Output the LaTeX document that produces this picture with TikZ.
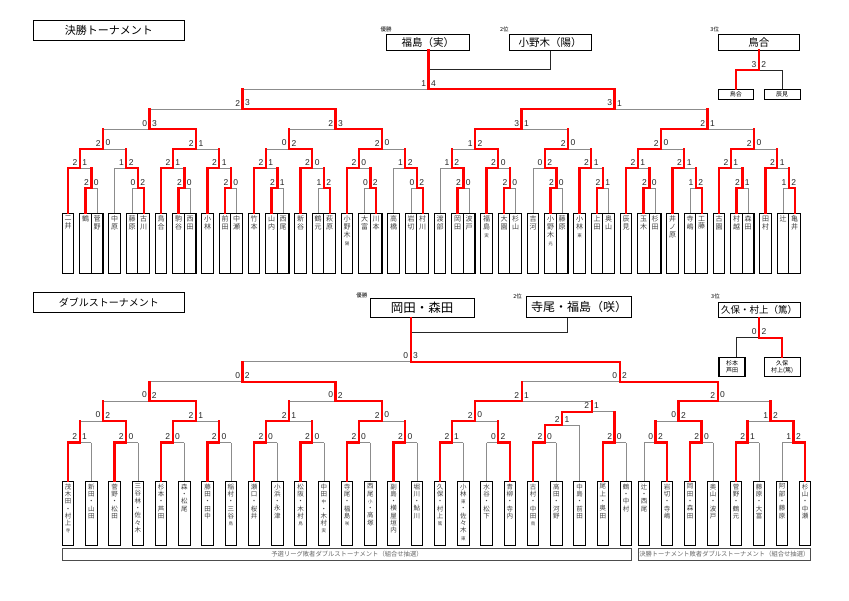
\documentclass[tikz,border=0pt]{standalone}
\usepackage{fontspec}
\setmainfont{Liberation Sans}
\newfontfamily\jp{Noto Sans CJK JP}
\usetikzlibrary{calc}
\pgfdeclarelayer{bg}
\pgfdeclarelayer{back}
\pgfsetlayers{bg,back,main}

% small suffix in a name column
\newcommand\sm[1]{{\fontsize{4.5}{5}\selectfont #1}}
% one match: [x], name, left, right, level, winner (l/r), left score, right score
\newcommand\bout[8][]{%
  \def\bx{#1}%
  \ifx\bx\empty
    \path let \p1=(#3), \p2=(#4), \p3=(0,#5) in ({(\x1+\x2)/2},\y3) coordinate (#2);
  \else
    \coordinate (#2) at (#1,#5);
  \fi
  \if l#6\def\wi{#3}\def\lo{#4}\else\def\wi{#4}\def\lo{#3}\fi
  \begin{pgfonlayer}{back}
    \draw[lose] (\lo |- #2) -- (#2);
    \ifcsname ism@\lo\endcsname\else\draw[lose] (\lo) -- (\lo |- #2);\fi
  \end{pgfonlayer}
  \ifcsname ism@\lo\endcsname\draw[win] (\lo) -- (\lo |- #2);\fi
  \draw[win] (\wi) |- (#2);
  \node[scL] at (#2) {#7};
  \node[scR] at (#2) {#8};
  \expandafter\gdef\csname ism@#2\endcsname{}%
}

\begin{document}
\begin{tikzpicture}[x=1pt,y=-1pt,
 win/.style={draw=red,line width=2.3pt,line cap=rect},
 lose/.style={draw=black!45,line width=0.6pt},
 rankline/.style={draw=black!85,line width=1pt},
 leaf/.style={draw,line width=1.1pt,anchor=north,minimum width=11.6pt,inner sep=0pt},
 nametop/.style={anchor=north,align=center,inner sep=0pt,yshift=-2.5pt,text=black!75,font=\jp\fontsize{7}{7.8}\selectfont},
 namebot/.style={nametop,font=\jp\fontsize{6.5}{7.3}\selectfont},
 scL/.style={anchor=south east,inner sep=0pt,xshift=-2.3pt,yshift=2.8pt,text=black!85,font=\fontsize{8.5}{8.5}\selectfont},
 scR/.style={anchor=south west,inner sep=0pt,xshift=2.3pt,yshift=2.8pt,text=black!85,font=\fontsize{8.5}{8.5}\selectfont},
 head/.style={draw,line width=1.1pt,inner sep=0pt},
 rank/.style={inner sep=0pt,font=\jp\fontsize{5.5}{5.5}\selectfont},
 small/.style={draw,line width=1.1pt,inner sep=0pt,align=center,font=\jp\fontsize{6}{6.8}\selectfont},
 secbar/.style={draw=black!70,line width=0.7pt,minimum height=11.7pt,inner sep=0pt,text=black!60,font=\jp\fontsize{6.3}{6.3}\selectfont}]
\begin{pgfonlayer}{bg}
\path[use as bounding box,fill=white] (0,0) rectangle (849,600);
\end{pgfonlayer}

% ---------- singles ----------
\node[head,minimum width=151pt,minimum height=20.7pt,font=\jp\fontsize{11}{11}\selectfont] (titleA) at (108.8,30.4) {決勝トーナメント};
\node[head,minimum width=82.3pt,minimum height=15.7pt,font=\jp\fontsize{10.5}{10.5}\selectfont] (champA) at (427.9,42.2) {福島（実）};
\node[head,minimum width=81.7pt,minimum height=15.7pt,font=\jp\fontsize{10.5}{10.5}\selectfont] (secondA) at (550.2,42.2) {小野木（陽）};
\node[head,minimum width=81pt,minimum height=15.7pt,font=\jp\fontsize{10.5}{10.5}\selectfont] (thirdA) at (758.8,42.2) {鳥合};
\node[rank,anchor=south] at ([yshift=1.5pt]champA.north west) {優勝};
\node[rank,anchor=south east] at ([yshift=1.5pt]secondA.north west) {2位};
\node[rank,anchor=south] at ([xshift=-3pt,yshift=1.5pt]thirdA.north west) {3位};
\node[small,minimum width=35pt,minimum height=10pt] (thAL) at (735.8,94.3) {鳥合};
\node[small,minimum width=35.7pt,minimum height=10pt] (thAR) at (782.2,94.3) {辰見};

\foreach \nm [count=\i from 0] in {{二\\井},{鶴},{菅\\野},{中\\原},{藤\\原},{古\\川},
 {鳥\\合},{駒\\谷},{西\\田},{小\\林},{前\\田},{中\\瀬},{竹\\本},{山\\内},{西\\尾},
 {新\\谷},{鶴\\元},{萩\\原},{小\\野\\木\\\sm{陽}},{大\\富},{川\\本},{高\\橋},{岩\\切},{村\\川},
 {渡\\部},{岡\\田},{波\\戸},{福\\島\\\sm{実}},{大\\園},{杉\\山},{吉\\河},{小\\野\\木\\\sm{光}},{藤\\原},
 {小\\林\\\sm{東}},{上\\田},{奥\\山},{辰\\見},{玉\\木},{杉\\田},{井\\ノ\\原},{寺\\嶋},{工\\藤},
 {古\\園},{村\\越},{森\\田},{田\\村},{辻},{亀\\井}}{
  \pgfmathtruncatemacro\g{\i/3}
  \pgfmathtruncatemacro\k{mod(\i,3)}
  \pgfmathsetmacro\xc{68.1+46.5*\g+(\k>0)*17.5+(\k>1)*11.6}
  \node[leaf,minimum height=59.4pt] (la\i) at (\xc,213.3) {};
  \node[nametop] at (la\i.north) {\nm};
  \coordinate (a\i) at (la\i.north);
}

\foreach \g/\pw/\pa/\pb/\qw/\qa/\qb in {0/l/2/0/l/2/1,1/r/0/2/r/1/2,2/l/2/0/l/2/1,3/l/2/0/l/2/1,
 4/l/2/1/l/2/1,5/r/1/2/l/2/0,6/r/0/2/l/2/0,7/r/0/2/r/1/2,8/l/2/0/r/1/2,9/l/2/0/l/2/0,
 10/l/2/0/r/0/2,11/l/2/1/l/2/1,12/l/2/0/l/2/1,13/r/1/2/l/2/1,14/l/2/1/l/2/1,15/r/1/2/l/2/1}{
  \pgfmathtruncatemacro\ia{3*\g}
  \pgfmathtruncatemacro\ib{3*\g+1}
  \pgfmathtruncatemacro\ic{3*\g+2}
  \bout{p\g}{a\ib}{a\ic}{188.3}{\pw}{\pa}{\pb}
  \bout{q\g}{a\ia}{p\g}{168.3}{\qw}{\qa}{\qb}
}
\foreach \j/\wn/\sa/\sb in {0/l/2/0,1/l/2/1,2/r/0/2,3/l/2/0,4/r/1/2,5/l/2/0,6/l/2/0,7/l/2/0}{
  \pgfmathtruncatemacro\ja{2*\j}
  \pgfmathtruncatemacro\jb{2*\j+1}
  \bout{r\j}{q\ja}{q\jb}{149}{\wn}{\sa}{\sb}
}
\foreach \j/\wn/\sa/\sb in {0/r/0/3,1/r/2/3,2/l/3/1,3/l/2/1}{
  \pgfmathtruncatemacro\ja{2*\j}
  \pgfmathtruncatemacro\jb{2*\j+1}
  \bout{s\j}{r\ja}{r\jb}{129.3}{\wn}{\sa}{\sb}
}
\bout{t0}{s0}{s1}{109}{r}{2}{3}
\bout{t1}{s2}{s3}{109}{l}{3}{1}
\bout{fa}{t0}{t1}{89.3}{r}{1}{4}

\path (fa) ++(0,-19.6) coordinate (jA);
\draw[rankline] (secondA.south) |- (jA);
\draw[win] (fa) -- (fa |- champA.south);
\draw[rankline] (thirdA.south) ++(0,19.7) coordinate (kA) -| (thAR.north);
\draw[win] (thirdA.south) -- (kA) -| (thAL.north);
\node[scL] at (kA) {3};
\node[scR] at (kA) {2};

% ---------- doubles ----------
\node[head,minimum width=151pt,minimum height=20.4pt,font=\jp\fontsize{10}{10}\selectfont] (titleB) at (108.8,302.5) {ダブルストーナメント};
\node[head,minimum width=104.3pt,minimum height=19pt,font=\jp\fontsize{12.5}{12.5}\selectfont] (champB) at (422.2,307.8) {岡田・森田};
\node[head,minimum width=105pt,minimum height=20.6pt,font=\jp\fontsize{12}{12}\selectfont] (secondB) at (579.2,307) {寺尾・福島（咲）};
\node[head,minimum width=81.7pt,minimum height=14.6pt,font=\jp\fontsize{9.5}{9.5}\selectfont] (thirdB) at (759.2,310) {久保・村上（篤）};
\node[rank,anchor=south east] at ([xshift=-2pt,yshift=-0.7pt]champB.north west) {優勝};
\node[rank,anchor=south east] at ([xshift=-4pt,yshift=-3.3pt]secondB.north west) {2位};
\node[rank,anchor=south] at ([xshift=-2.3pt,yshift=2.7pt]thirdB.north west) {3位};
\node[small,minimum width=26pt,minimum height=19.4pt] (thBL) at (732,367) {杉本\\芦田};
\node[small,minimum width=35.7pt,minimum height=19.4pt] (thBR) at (782.2,367) {久保\\村上(篤)};

\foreach \nm [count=\i from 0] in {{茂\\木\\田\\・\\村\\上\\\sm{寺}},{新\\田\\・\\山\\田},{菅\\野\\・\\松\\田},
 {三\\谷\\林\\・\\佐\\々\\木},{杉\\本\\・\\芦\\田},{森\\・\\松\\尾},{藤\\田\\・\\田\\中},{稲\\村\\・\\三\\谷\\\sm{鳥}},
 {瀬\\口\\・\\桜\\井},{小\\浜\\・\\永\\津},{松\\阪\\・\\木\\村\\\sm{鳥}},{中\\田\\\sm{中}\\・\\木\\村\\\sm{実}},
 {寺\\尾\\・\\福\\島\\\sm{咲}},{西\\尾\\\sm{小}\\・\\高\\塚},{副\\島\\・\\横\\屋\\垣\\内},{堀\\川\\・\\鮎\\川},
 {久\\保\\・\\村\\上\\\sm{篤}},{小\\林\\\sm{東}\\・\\佐\\々\\木\\\sm{東}},{水\\谷\\・\\松\\下},{青\\柳\\・\\寺\\内},
 {古\\村\\・\\中\\田\\\sm{鳥}},{高\\田\\・\\河\\野},{中\\島\\・\\前\\田},{尾\\上\\・\\奥\\田},{鶴\\・\\中\\村},
 {辻\\・\\西\\尾},{岩\\切\\・\\寺\\嶋},{岡\\田\\・\\森\\田},{奥\\山\\・\\波\\戸},
 {菅\\野\\・\\鶴\\元},{藤\\原\\・\\大\\富},{阿\\部\\・\\藤\\原},{杉\\山\\・\\中\\瀬}}{
  \pgfmathsetmacro\xc{\i<25 ? 68.1+23.25*\i : 644.1+23*(\i-25)}
  \node[leaf,minimum height=64pt] (lb\i) at (\xc,481) {};
  \node[namebot] at (lb\i.north) {\nm};
  \coordinate (b\i) at (lb\i.north);
}
\node[secbar,minimum width=569.4pt] (barL) at (347,554.2) {予選リーグ敗者ダブルストーナメント（組合せ抽選）};
\node[secbar,minimum width=172pt] (barR) at (724.3,554.2) {決勝トーナメント敗者ダブルストーナメント（組合せ抽選）};

\foreach \k/\ia/\ib/\wn/\sa/\sb in {0/0/1/l/2/1,1/2/3/l/2/0,2/4/5/l/2/0,3/6/7/l/2/0,
 4/8/9/l/2/0,5/10/11/l/2/0,6/12/13/l/2/0,7/14/15/l/2/0,8/16/17/l/2/1,9/18/19/r/0/2,
 10/20/21/l/2/0,11/23/24/l/2/0,12/25/26/r/0/2,13/27/28/l/2/0,14/29/30/l/2/1,15/31/32/r/1/2}{
  \bout{c\k}{b\ia}{b\ib}{442.5}{\wn}{\sa}{\sb}
}
\foreach \k/\ca/\cb/\wn/\sa/\sb in {0/0/1/r/0/2,1/2/3/l/2/1,2/4/5/l/2/1,3/6/7/l/2/0,
 4/8/9/l/2/0,5/12/13/r/0/2,6/14/15/r/1/2}{
  \bout{d\k}{c\ca}{c\cb}{421}{\wn}{\sa}{\sb}
}
\bout{e0}{c10}{b22}{425}{l}{2}{1}
\bout[591.7]{e1}{e0}{c11}{411.7}{l}{2}{1}
\bout{u0}{d0}{d1}{401}{r}{0}{2}
\bout{u1}{d2}{d3}{401}{r}{0}{2}
\bout[521.7]{u2}{d4}{e1}{401}{l}{2}{1}
\bout[717.7]{u3}{d5}{d6}{401}{l}{2}{0}
\bout{v0}{u0}{u1}{381.7}{r}{0}{2}
\bout{v1}{u2}{u3}{381.7}{r}{0}{2}
\bout[410.7]{fb}{v0}{v1}{361.7}{r}{0}{3}

\path (fb) ++(0,-29.4) coordinate (jB);
\draw[rankline] ([xshift=-11.9pt]secondB.south) |- (jB);
\draw[win] (fb) -- (fb |- champB.south);
\draw[rankline] (thirdB.south) ++(0,20) coordinate (kB) -| ([xshift=4pt]thBL.north);
\draw[win] (thirdB.south) -- (kB) -| (thBR.north);
\node[scL] at (kB) {0};
\node[scR] at (kB) {2};
\end{tikzpicture}
\end{document}
